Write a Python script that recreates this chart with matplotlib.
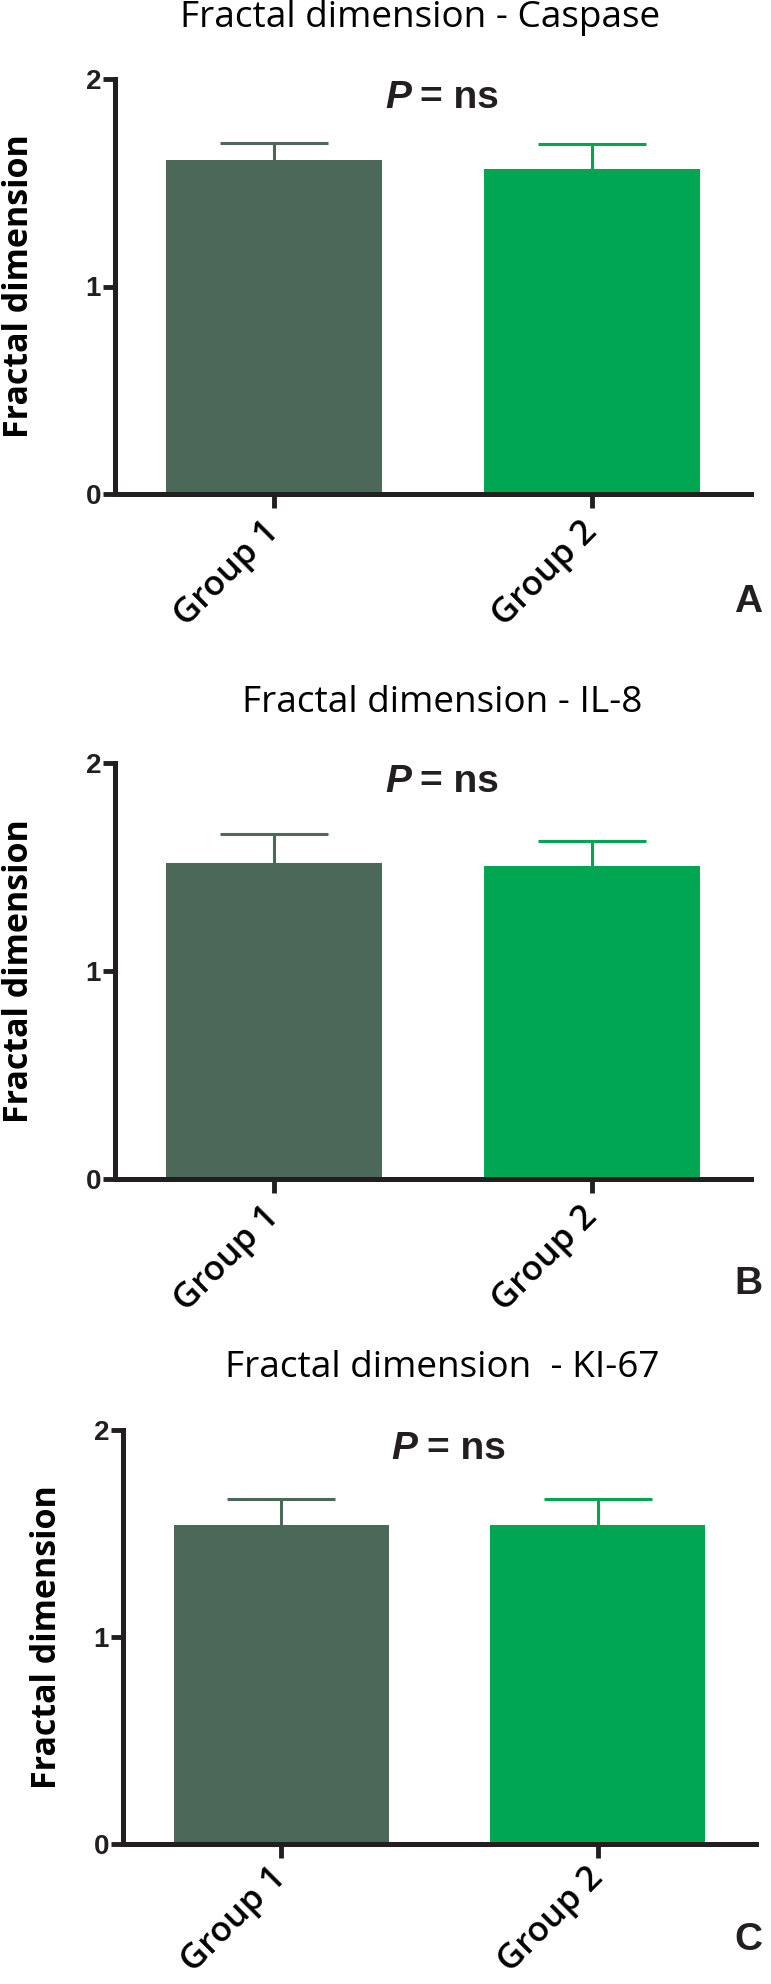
import numpy as np
import matplotlib
matplotlib.use("Agg")
import matplotlib.pyplot as plt

# ----------------------------------------
# Data
# ----------------------------------------
groups = ["Group 1", "Group 2"]
titles = ["Fractal dimension - Caspase", "Fractal dimension - IL-8", "Fractal dimension  - KI-67"]
panel_letters = ["A", "B", "C"]
means = [
    [1.61, 1.565],   # Caspase
    [1.517, 1.506],  # IL-8
    [1.54, 1.54],    # KI-67
]
sems = [
    [0.08, 0.12],
    [0.143, 0.119],
    [0.125, 0.125],
]
yticks = [0, 1, 2]

bar_colors = ["#4b6858", "#00a651"]
ink = "#231f20"

W, H = 771, 1984
fig = plt.figure(figsize=(W / 100, H / 100), dpi=100)

# pixel layout: (axis left, axis right, y=2 top, y=0 bottom, title x, title y, ylabel x, letter y)
layout = [
    (115, 751, 79, 494, 420, 18, 19, 602),
    (115, 751, 763, 1179, 442, 703, 19, 1284),
    (123, 756, 1430, 1844, 442, 1368, 47, 1940),
]

title_texts, ylabel_texts = [], []
for i, (l, r, t, b, tx, ty, lx, ly) in enumerate(layout):
    ax = fig.add_axes([l / W, 1 - b / H, (r - l) / W, (b - t) / H])
    x = np.arange(len(groups))
    ax.bar(x, means[i], width=0.68, color=bar_colors, zorder=2)
    # upper error bars only
    for xi, m, s, c in zip(x, means[i], sems[i], bar_colors):
        ax.vlines(xi, m, m + s, color=c, lw=2.2, zorder=1)
        ax.hlines(m + s, xi - 0.17, xi + 0.17, color=c, lw=2.2, zorder=1)

    ax.set_xlim(-0.5, 1.5)
    ax.set_ylim(0, 2)
    ax.set_yticks(yticks)
    ax.set_yticklabels([str(v) for v in yticks], fontfamily="Liberation Sans",
                       fontweight="bold", fontsize=20, color=ink)
    ax.set_xticks(x)
    ax.set_xticklabels(groups, rotation=45, ha="right", va="center",
                       rotation_mode="anchor", fontfamily="Open Sans",
                       fontweight="semibold", fontsize=25, color="black")
    ax.tick_params(axis="y", length=9, width=3.5, color=ink, pad=1)
    ax.tick_params(axis="x", length=10, width=3.5, color=ink, pad=14 if i < 2 else 11)
    for side in ["top", "right"]:
        ax.spines[side].set_visible(False)
    for side in ["left", "bottom"]:
        ax.spines[side].set_linewidth(3.6)
        ax.spines[side].set_color(ink)

    # P = ns annotation
    ax.text(0.465, 0.955, "P", transform=ax.transAxes, ha="right", va="center",
            fontfamily="Liberation Sans", fontweight="bold", fontstyle="italic",
            fontsize=28, color=ink)
    ax.text(0.48, 0.955, "= ns", transform=ax.transAxes, ha="left", va="center",
            fontfamily="Liberation Sans", fontweight="bold", fontsize=28, color=ink)

    title_texts.append(fig.text(tx / W, 1 - ty / H, titles[i], ha="center", va="center",
                                fontfamily="Open Sans", fontweight="medium",
                                fontsize=25, color="black"))
    ylabel_texts.append(fig.text(lx / W, 1 - (t + b) / 2 / H, "Fractal dimension", rotation=90,
                                 ha="center", va="center", fontfamily="Open Sans",
                                 fontweight="bold", fontsize=25, color="black"))
    fig.text(748 / W, 1 - ly / H, panel_letters[i], ha="center", va="center",
             fontfamily="Liberation Sans", fontweight="bold", fontsize=28, color=ink)

# size the title and y-label fonts so their length matches the reference
renderer = fig.canvas.get_renderer()
w_title = title_texts[0].get_window_extent(renderer).width
title_size = 25 * 482 / w_title
for txt in title_texts:
    txt.set_fontsize(title_size)
h_label = ylabel_texts[0].get_window_extent(renderer).height
label_size = 25 * 305 / h_label
for txt in ylabel_texts:
    txt.set_fontsize(label_size)

fig.savefig("out.png", dpi=100, facecolor="white")
